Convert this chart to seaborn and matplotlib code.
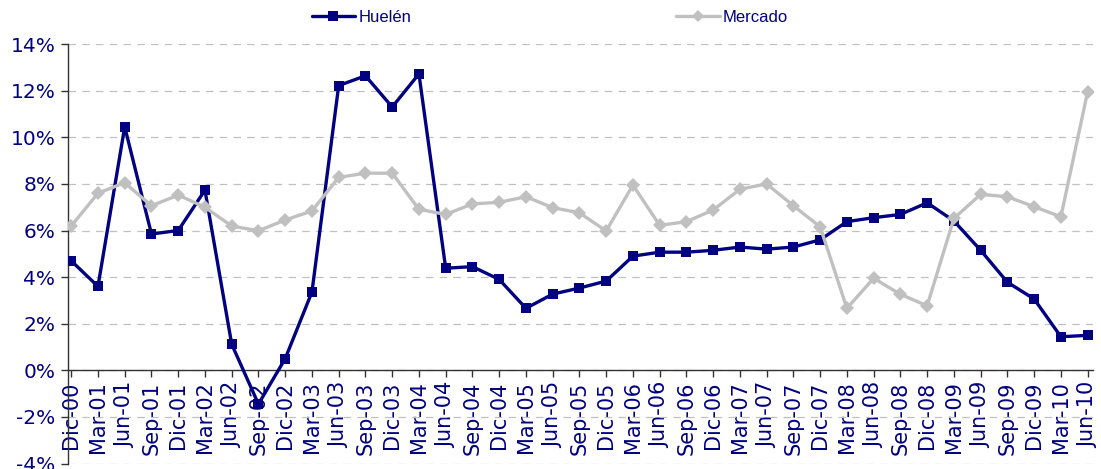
import matplotlib
matplotlib.use("Agg")
import matplotlib.pyplot as plt
import matplotlib.ticker as ticker
import numpy as np
import pandas as pd
import seaborn as sns

# quarterly periods, Dic-00 .. Jun-10
periods = ['Dic-00', 'Mar-01', 'Jun-01', 'Sep-01', 'Dic-01', 'Mar-02', 'Jun-02', 'Sep-02',
           'Dic-02', 'Mar-03', 'Jun-03', 'Sep-03', 'Dic-03', 'Mar-04', 'Jun-04', 'Sep-04',
           'Dic-04', 'Mar-05', 'Jun-05', 'Sep-05', 'Dic-05', 'Mar-06', 'Jun-06', 'Sep-06',
           'Dic-06', 'Mar-07', 'Jun-07', 'Sep-07', 'Dic-07', 'Mar-08', 'Jun-08', 'Sep-08',
           'Dic-08', 'Mar-09', 'Jun-09', 'Sep-09', 'Dic-09', 'Mar-10', 'Jun-10']

huelen = [4.70, 3.60, 10.45, 5.85, 6.00, 7.73, 1.12, -1.45, 0.50, 3.36,
          12.22, 12.64, 11.30, 12.72, 4.38, 4.45, 3.90, 2.66, 3.27, 3.53,
          3.83, 4.90, 5.07, 5.07, 5.15, 5.29, 5.20, 5.29, 5.60, 6.38,
          6.55, 6.69, 7.19, 6.41, 5.15, 3.78, 3.06, 1.44, 1.50]

mercado = [6.19, 7.60, 8.05, 7.06, 7.52, 7.00, 6.19, 5.99, 6.45, 6.84,
           8.28, 8.46, 8.46, 6.91, 6.69, 7.14, 7.21, 7.45, 6.98, 6.76,
           5.98, 7.95, 6.22, 6.38, 6.88, 7.77, 8.00, 7.06, 6.16, 2.66,
           3.95, 3.26, 2.77, 6.52, 7.55, 7.45, 7.02, 6.59, 11.96]

navy = '#000080'
grey = '#c0c0c0'

df = pd.DataFrame({'idx': np.arange(len(periods)), 'Huelén': huelen, 'Mercado': mercado})
long_df = df.melt(id_vars='idx', var_name='serie', value_name='valor')

sns.set_theme(style='white')
plt.rcParams['font.family'] = ['DejaVu Sans']

fig = plt.figure(figsize=(11.01, 4.69), dpi=100)
ax = fig.add_axes([68 / 1101, (469 - 463.5) / 469, (1093 - 68) / 1101, (463.5 - 44.1) / 469])

sns.lineplot(data=long_df, x='idx', y='valor', hue='serie', style='serie',
             palette={'Huelén': navy, 'Mercado': grey},
             markers={'Huelén': 's', 'Mercado': 'D'},
             dashes=False, sort=False, linewidth=2.4, markersize=7.5,
             markeredgewidth=0, ax=ax, legend=False, zorder=3)

# spine position first: it resets the tick objects
for s in ['top', 'right']:
    ax.spines[s].set_visible(False)
ax.spines['bottom'].set_position(('data', 0))
ax.spines['bottom'].set_color('#333333')
ax.spines['left'].set_color('#333333')
ax.spines['bottom'].set_linewidth(1)
ax.spines['left'].set_linewidth(1)
ax.spines['bottom'].set_zorder(2)

ax.set_ylim(-4, 14)
ax.set_xlim(-0.12, 38.2)
ax.set_xlabel('')
ax.set_ylabel('')

ax.yaxis.set_major_locator(ticker.MultipleLocator(2))
ax.yaxis.set_major_formatter(ticker.FuncFormatter(lambda v, p: f'{v:.0f}%'))
ax.yaxis.grid(True, color=grey, linestyle=(0, (6, 5)), linewidth=0.9)
ax.set_axisbelow(True)

ax.set_xticks(df['idx'])
ax.set_xticklabels(periods, rotation=90, fontsize=15, color=navy,
                   family='DejaVu Sans', va='top')
ax.tick_params(axis='y', labelsize=14.5, labelcolor=navy, left=True,
               length=5, width=1, color='#333333', direction='out', pad=4)
ax.tick_params(axis='x', bottom=True, length=5, width=1, color='#333333',
               direction='out', pad=3)

# legend above the plot
h1 = plt.Line2D([], [], color=navy, marker='s', lw=2.4, markersize=7.5, markeredgewidth=0)
h2 = plt.Line2D([], [], color=grey, marker='D', lw=2.4, markersize=6.5, markeredgewidth=0)
leg = fig.legend([h1, h2], ['Huelén', 'Mercado'], loc='center', bbox_to_anchor=(0.4995, 0.962),
                 ncol=2, frameon=False, handlelength=2.6, handletextpad=0.2,
                 columnspacing=15.9, prop={'family': 'Liberation Sans', 'size': 12})
for t in leg.get_texts():
    t.set_color(navy)

fig.savefig('out.png', dpi=100)
